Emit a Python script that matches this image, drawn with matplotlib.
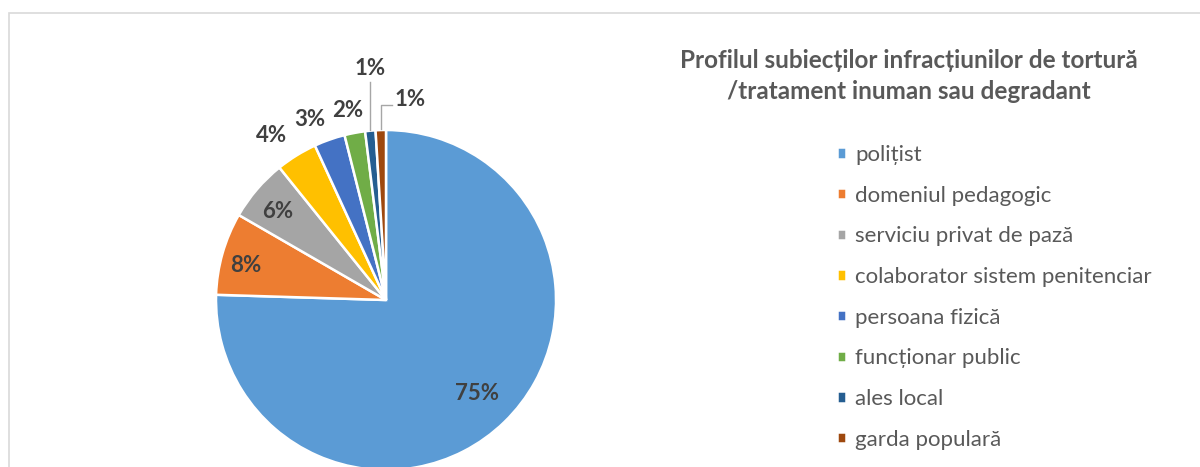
import numpy as np
import matplotlib
matplotlib.use("Agg")
import matplotlib.pyplot as plt
from matplotlib.patches import Rectangle

categorii = ["polițist", "domeniul pedagogic", "serviciu privat de pază",
             "colaborator sistem penitenciar", "persoana fizică",
             "funcționar public", "ales local", "garda populară"]
valori = [77, 8, 6, 4, 3, 2, 1, 1]
culori = ["#5B9BD5", "#ED7D31", "#A5A5A5", "#FFC000",
          "#4472C4", "#70AD47", "#255E91", "#9E480E"]
titlu = "Profilul subiecților infracțiunilor de tortură\n/tratament inuman sau degradant"

plt.rcParams['font.family'] = ['Lato', 'DejaVu Sans']

W, H = 1200, 467
fig = plt.figure(figsize=(12, 4.67), dpi=100)
ax = fig.add_axes([0, 0, 1, 1])

# pie in pixel coords (y up)
cx, cy, r = 386, H - 300, 170
explode = [0.033, 0, 0, 0, 0, 0, 0, 0]
wedges, _ = ax.pie(valori, colors=culori, startangle=90, counterclock=False,
                   center=(cx, cy), radius=r, explode=explode,
                   wedgeprops=dict(edgecolor="white", linewidth=1.8))
ax.set_xlim(0, W)
ax.set_ylim(0, H)
ax.set_aspect('equal')
ax.axis('off')

total = sum(valori)
# pozitia etichetelor: distanta (fractie din raza) si rotire fata de mijlocul feliei
dist = [0.77, 0.85, 0.82, 1.18, 1.15, 1.14]
rot = [0, 2.2, 1.4, 3.2, 3.4, 0.8]
lbl = dict(fontsize=16, fontweight='bold', color='#404040', ha='center', va='center')
for i, w in enumerate(wedges):
    pct = "%.0f%%" % (100 * valori[i] / total)
    ang = np.deg2rad((w.theta1 + w.theta2) / 2)
    x0, y0 = w.center
    if i < 6:
        a = ang + np.deg2rad(rot[i])
        ax.text(x0 + dist[i] * r * np.cos(a), y0 + dist[i] * r * np.sin(a), pct, **lbl)
    else:
        xe = x0 + r * np.cos(ang)
        ye = y0 + r * np.sin(ang)
        if i == 6:
            ax.plot([xe, xe], [ye + 1, ye + 49], color='#A6A6A6', lw=1)
            ax.text(xe, ye + 62, pct, **lbl)
        else:
            ax.plot([xe, xe, xe + 11], [ye + 1, ye + 25, ye + 25], color='#A6A6A6', lw=1)
            lbl2 = dict(lbl, ha='left')
            ax.text(xe + 14, ye + 31, pct, **lbl2)

fig.text(909 / W, 1 - 76 / H, titlu, ha='center', va='center', fontsize=17.5,
         fontweight='bold', color='#595959', linespacing=1.4)

ax.legend(wedges, categorii, loc='upper left', bbox_to_anchor=(837 / W, 1 - 145 / H),
          bbox_transform=fig.transFigure, frameon=False, handlelength=0.42,
          handleheight=0.42, handletextpad=0.4, labelspacing=0.93, fontsize=16,
          labelcolor='#595959', borderaxespad=0, borderpad=0)

# chenar
fig.add_artist(Rectangle((9 / W, -0.1), 1.2, 1.1 - 13 / H, transform=fig.transFigure,
                         fill=False, edgecolor='#D9D9D9', lw=1.2))

fig.savefig("out.png", dpi=100)
